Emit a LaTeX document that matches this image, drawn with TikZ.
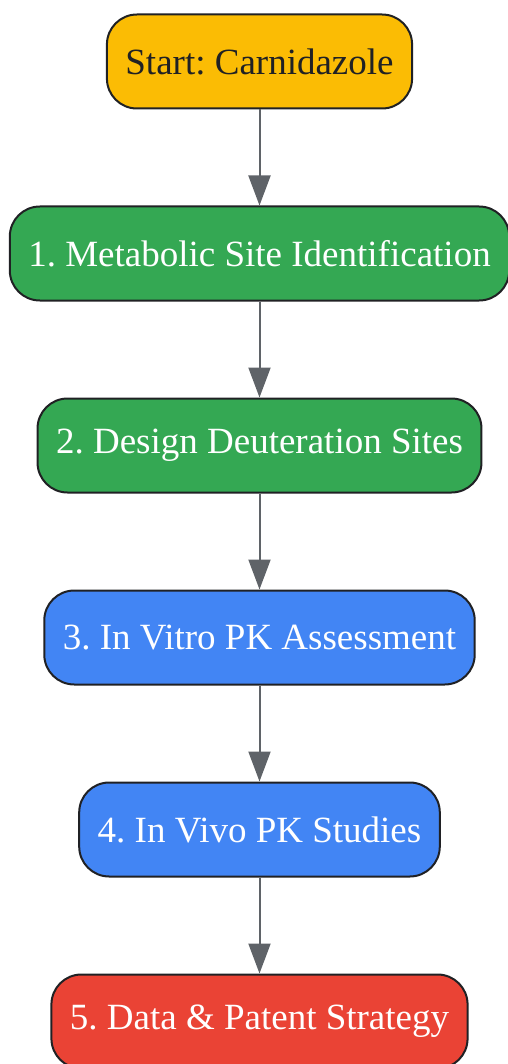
\documentclass[tikz,border=0pt]{standalone}
\usepackage{fontspec}
\setmainfont{Liberation Serif}
\frenchspacing
\usetikzlibrary{positioning,arrows.meta}
\definecolor{startyellow}{HTML}{FBBC04}
\definecolor{stepgreen}{HTML}{34A853}
\definecolor{stepblue}{HTML}{4285F4}
\definecolor{stepred}{HTML}{EA4335}
\definecolor{edgegray}{HTML}{5F6368}
\definecolor{textdark}{HTML}{202124}
\begin{document}
\begin{tikzpicture}[x=1pt, y=1pt, node distance=96pt,
    stagebox/.style={draw=textdark, line width=2pt, rounded corners=30pt,
      minimum height=94pt, inner xsep=18.5pt, text=white,
      font=\fontsize{37}{44}\selectfont},
    flow/.style={draw=edgegray, line width=2pt,
      -{Triangle[length=30pt, width=22pt]}}]
  \useasboundingbox (0,0) rectangle (507,-1064);
  \node[stagebox, fill=startyellow, text=textdark] (start) at (259.5,-61.5) {Start: Carnidazole};
  \node[stagebox, fill=stepgreen, below=of start] (siteid) {1. Metabolic Site Identification};
  \node[stagebox, fill=stepgreen, below=of siteid] (design) {2. Design Deuteration Sites};
  \node[stagebox, fill=stepblue, below=of design] (vitro) {3. In Vitro PK Assessment};
  \node[stagebox, fill=stepblue, below=of vitro] (vivo) {4. In Vivo PK Studies};
  \node[stagebox, fill=stepred, below=of vivo] (patent) {5. Data \& Patent Strategy};
  \foreach \a/\b in {start/siteid, siteid/design, design/vitro, vitro/vivo, vivo/patent}
    \draw[flow] (\a) -- (\b);
\end{tikzpicture}
\end{document}
